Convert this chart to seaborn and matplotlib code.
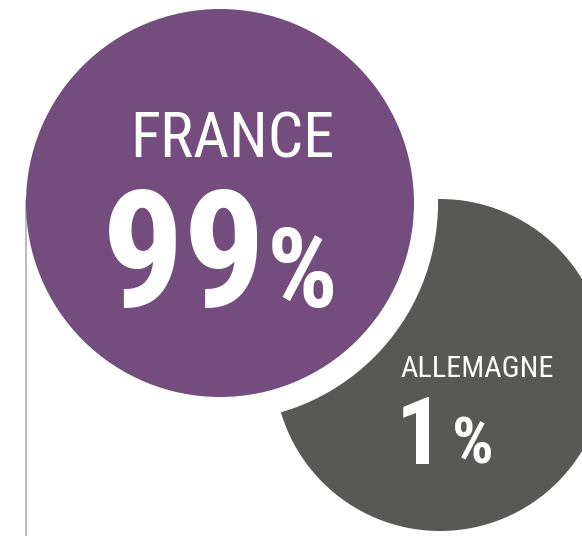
import matplotlib
matplotlib.use("Agg")
import matplotlib.pyplot as plt
from matplotlib.patches import Circle
import seaborn as sns

# Data
countries = ["FRANCE", "ALLEMAGNE"]
shares = [99, 1]
colors = ["#744C7D", "#585856"]

sns.set_theme(style="white")
plt.rcParams['font.family'] = ['Roboto Condensed', 'DejaVu Sans']

fig = plt.figure(figsize=(5.82, 5.36), dpi=100)
ax = fig.add_axes([0, 0, 1, 1])
ax.set_xlim(0, 582)
ax.set_ylim(536, 0)
ax.set_aspect("equal")
ax.axis("off")

# bubbles: (center x, center y, radius) in pixels
bubbles = [(220, 203, 194), (440, 365, 166)]
ring = 24

# gray bubble first, then white ring + purple on top
gx, gy, gr = bubbles[1]
ax.add_patch(Circle((gx, gy), gr, color=colors[1], lw=0, zorder=2))
px, py, pr = bubbles[0]
ax.add_patch(Circle((px, py), pr + ring, color="white", lw=0, zorder=3))
ax.add_patch(Circle((px, py), pr, color=colors[0], lw=0, zorder=5))

# thin vertical guide line on the left
ax.plot([26, 26], [200, 536], color="#A8A8A8", lw=1.1, zorder=4)

# labels
ax.text(232, 157, countries[0], color="white", fontsize=45, ha="center",
        va="baseline", zorder=6)
ax.text(266, 307, f"{shares[0]}", color="white", fontsize=117, fontweight="bold",
        ha="right", va="baseline", zorder=6)
ax.text(267, 307, "%", color="white", fontsize=80, fontweight="bold",
        ha="left", va="baseline", zorder=6)

ax.text(477, 377, countries[1], color="white", fontsize=21.8, ha="center",
        va="baseline", zorder=6)
ax.text(443, 464, f"{shares[1]}", color="white", fontsize=68, fontweight="bold",
        ha="right", va="baseline", zorder=6)
ax.text(452, 464, "%", color="white", fontsize=47, fontweight="bold",
        ha="left", va="baseline", zorder=6)

fig.savefig("out.png", dpi=100, facecolor="white")
